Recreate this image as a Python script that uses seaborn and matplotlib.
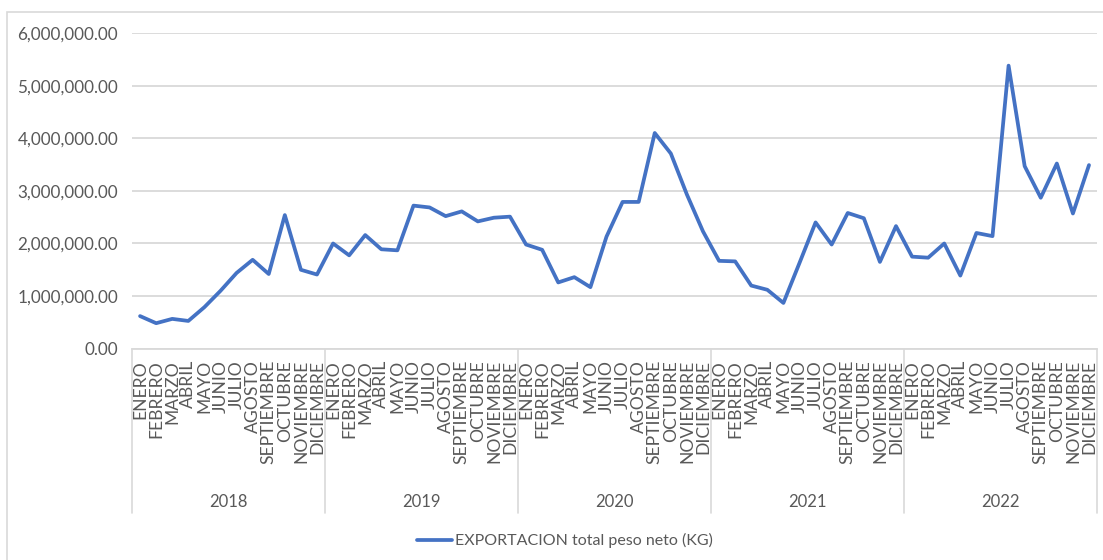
import matplotlib.pyplot as plt
import matplotlib.transforms as mtransforms
from matplotlib.patches import Rectangle
from matplotlib.ticker import FuncFormatter, MultipleLocator
import numpy as np
import pandas as pd
import seaborn as sns

# Monthly export net weight (KG)
years = ["2018", "2019", "2020", "2021", "2022"]
months = ["ENERO", "FEBRERO", "MARZO", "ABRIL", "MAYO", "JUNIO", "JULIO",
          "AGOSTO", "SEPTIEMBRE", "OCTUBRE", "NOVIEMBRE", "DICIEMBRE"]
kg_2018 = [620000, 485000, 567000, 528000, 790000, 1100000,
           1440000, 1690000, 1420000, 2540000, 1500000, 1410000]
kg_2019 = [2000000, 1775000, 2160000, 1890000, 1870000, 2720000,
           2685000, 2520000, 2610000, 2420000, 2490000, 2510000]
kg_2020 = [1980000, 1880000, 1260000, 1360000, 1170000, 2130000,
           2790000, 2790000, 4100000, 3710000, 2930000, 2230000]
kg_2021 = [1670000, 1660000, 1200000, 1120000, 870000, 1630000,
           2400000, 1980000, 2580000, 2480000, 1650000, 2330000]
kg_2022 = [1750000, 1730000, 2000000, 1390000, 2200000, 2140000,
           5380000, 3470000, 2870000, 3520000, 2570000, 3490000]
series_name = "EXPORTACION total peso neto (KG)"

values = kg_2018 + kg_2019 + kg_2020 + kg_2021 + kg_2022
df = pd.DataFrame({
    "year": np.repeat(years, len(months)),
    "month": months * len(years),
    "kg": values,
})
df["pos"] = np.arange(len(df))

sns.set_style("white")
plt.rcParams["font.family"] = ["Lato", "DejaVu Sans"]
grey_txt = "#595959"
grid_col = "#D9D9D9"

fig = plt.figure(figsize=(11.03, 5.6), dpi=100)
ax = fig.add_axes([0.1197, 0.3773, 0.8749, 0.5637])

# outer chart border
fig.patches.append(Rectangle((7 / 1103, -0.01), 1.0, 1 - 12 / 560 + 0.01,
                             transform=fig.transFigure, fill=False,
                             edgecolor=grid_col, linewidth=1.2))

sns.lineplot(data=df, x="pos", y="kg", ax=ax, color="#4472C4",
             linewidth=2.7, label=series_name, legend=False)

ax.set_xlim(-0.5, len(df) - 0.5)
ax.set_ylim(0, 6000000)
ax.yaxis.set_major_locator(MultipleLocator(1000000))
ax.yaxis.set_major_formatter(FuncFormatter(lambda v, p: f"{v:,.2f}"))
ax.grid(axis="y", color=grid_col, linewidth=1.3)
ax.set_axisbelow(True)
for s in ["top", "right", "left"]:
    ax.spines[s].set_visible(False)
ax.spines["bottom"].set_color(grid_col)
ax.spines["bottom"].set_linewidth(1.3)

ax.set_xticks(df["pos"])
ax.set_xticklabels(df["month"], rotation=90, fontsize=12.6, color=grey_txt)
ax.tick_params(axis="x", length=0, pad=8)
ax.tick_params(axis="y", length=0, pad=10, labelsize=12.3, labelcolor=grey_txt)
ax.set_xlabel("")
ax.set_ylabel("")

# year group labels and separators below the month labels
trans = mtransforms.blended_transform_factory(ax.transData, ax.transAxes)
n = len(months)
for i, yr in enumerate(years):
    ax.text(i * n + (n - 1) / 2, -0.486, yr, transform=trans, ha="center",
            va="center", fontsize=12, color=grey_txt)
for b in range(len(years) + 1):
    ax.plot([b * n - 0.5, b * n - 0.5], [0, -0.52], transform=trans,
            color=grid_col, linewidth=1.2, clip_on=False)

handles, labels = ax.get_legend_handles_labels()
fig.legend(handles, labels, loc="center", bbox_to_anchor=(0.512, 0.034),
           frameon=False, fontsize=11.5, handlelength=2.2, handletextpad=0.2,
           labelcolor=grey_txt)

fig.savefig("out.png", dpi=100)
